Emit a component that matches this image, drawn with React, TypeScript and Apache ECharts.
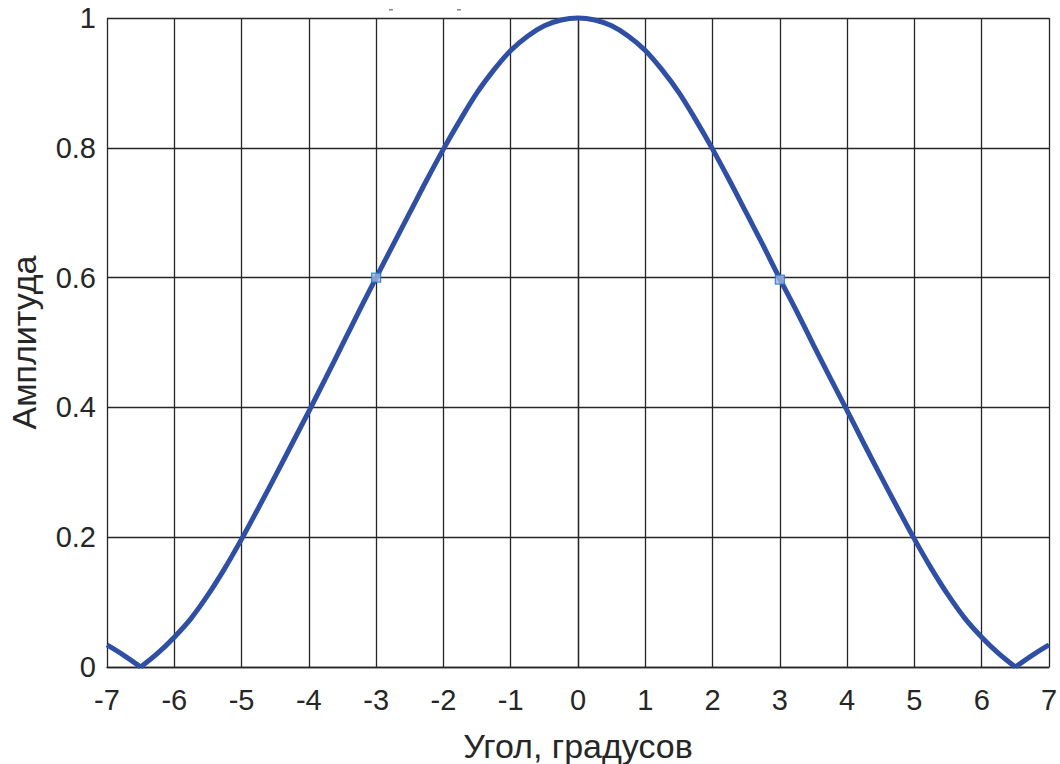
import React, { useEffect, useRef } from "react";
import * as echarts from "echarts";

// Angle samples, degrees
const angles = [
  -7, -6.75, -6.5, -6.25, -6, -5.75, -5.5, -5.25, -5, -4.75, -4.5, -4.25, -4, -3.75, -3.5, -3.25,
  -3, -2.75, -2.5, -2.25, -2, -1.75, -1.5, -1.25, -1, -0.75, -0.5, -0.25, 0,
  0.25, 0.5, 0.75, 1, 1.25, 1.5, 1.75, 2, 2.25, 2.5, 2.75, 3, 3.25, 3.5, 3.75,
  4, 4.25, 4.5, 4.75, 5, 5.25, 5.5, 5.75, 6, 6.25, 6.5, 6.75, 7,
];

// Normalised amplitude at each angle
const amplitude = [
  0.034, 0.018, 0.0, 0.021, 0.046, 0.075, 0.111, 0.152, 0.197, 0.245, 0.294, 0.344, 0.394, 0.445, 0.497, 0.549,
  0.6, 0.65, 0.7, 0.75, 0.798, 0.843, 0.885, 0.92, 0.95, 0.972, 0.988, 0.997, 1.0,
  0.997, 0.988, 0.972, 0.95, 0.92, 0.885, 0.843, 0.798, 0.75, 0.7, 0.65, 0.598, 0.548, 0.496, 0.445,
  0.395, 0.344, 0.294, 0.245, 0.197, 0.152, 0.111, 0.075, 0.046, 0.021, 0.0, 0.018, 0.034,
];

// Nulls of the pattern split the curve into a main lobe and two side-lobe pieces
const nullAngles = [-6.5, 6.5];

// Marked points on the main lobe
const markerAngles = [-3, 3];
const markerValues = [0.6, 0.597];

const xTicks = { min: -7, max: 7, interval: 1 };
const yTicks = { min: 0, max: 1, interval: 0.2 };

const FONT = "'Liberation Sans', Arial, sans-serif";
const INK = "#262626";
const LINE_BLUE = "#2f4fa5";

function piece(from: number, to: number) {
  const pts: number[][] = [];
  angles.forEach((a, i) => {
    if (a >= from && a <= to) pts.push([a, amplitude[i]]);
  });
  return pts;
}

export default function App() {
  const ref = useRef<HTMLDivElement>(null);

  useEffect(() => {
    document.body.style.margin = "0";
    const chart = echarts.init(ref.current!, null, { renderer: "svg" });
    const bounds = [xTicks.min, ...nullAngles, xTicks.max];
    const curveSeries = bounds.slice(0, -1).map((from, k) => ({
      type: "line",
      data: piece(from, bounds[k + 1]),
      showSymbol: false,
      smooth: 0.35,
      clip: false,
      lineStyle: { color: LINE_BLUE, width: 5 },
      z: 3,
    }));
    chart.setOption({
      animation: false,
      backgroundColor: "#ffffff",
      grid: {
        left: 107,
        right: 11,
        top: 18,
        bottom: 97,
        containLabel: false,
        outerBoundsMode: "none",
      },
      xAxis: {
        type: "value",
        min: xTicks.min,
        max: xTicks.max,
        interval: xTicks.interval,
        name: "Угол, градусов",
        nameLocation: "middle",
        nameGap: 62,
        nameTextStyle: { fontFamily: FONT, fontSize: 34, color: INK },
        axisLine: { show: true, onZero: false, lineStyle: { color: INK, width: 1.3 } },
        axisTick: { show: false },
        axisLabel: { fontFamily: FONT, fontSize: 29, color: INK, margin: 18 },
        splitLine: { show: true, lineStyle: { color: INK, width: 1.3 } },
      },
      yAxis: {
        type: "value",
        min: yTicks.min,
        max: yTicks.max,
        interval: yTicks.interval,
        name: "Амплитуда",
        nameLocation: "middle",
        nameGap: 66,
        nameTextStyle: { fontFamily: FONT, fontSize: 34, color: INK },
        axisLine: { show: true, lineStyle: { color: INK, width: 1.3 } },
        axisTick: { show: false },
        axisLabel: { fontFamily: FONT, fontSize: 29, color: INK, margin: 11 },
        splitLine: { show: true, lineStyle: { color: INK, width: 1.3 } },
      },
      graphic: [
        { type: "rect", shape: { x: 389, y: 9, width: 4, height: 1.5 }, style: { fill: "#888" } },
        { type: "rect", shape: { x: 457, y: 9, width: 4, height: 1.5 }, style: { fill: "#888" } },
      ],
      series: [
        ...curveSeries,
        {
          type: "scatter",
          data: markerAngles.map((a, i) => [a, markerValues[i]]),
          symbol: "rect",
          symbolSize: 9,
          itemStyle: { color: "#9fb2e2", borderColor: "#1f78b8", borderWidth: 1.3 },
          z: 4,
        },
      ],
    });
    return () => chart.dispose();
  }, []);

  return <div ref={ref} style={{ width: 1060, height: 764 }} />;
}
